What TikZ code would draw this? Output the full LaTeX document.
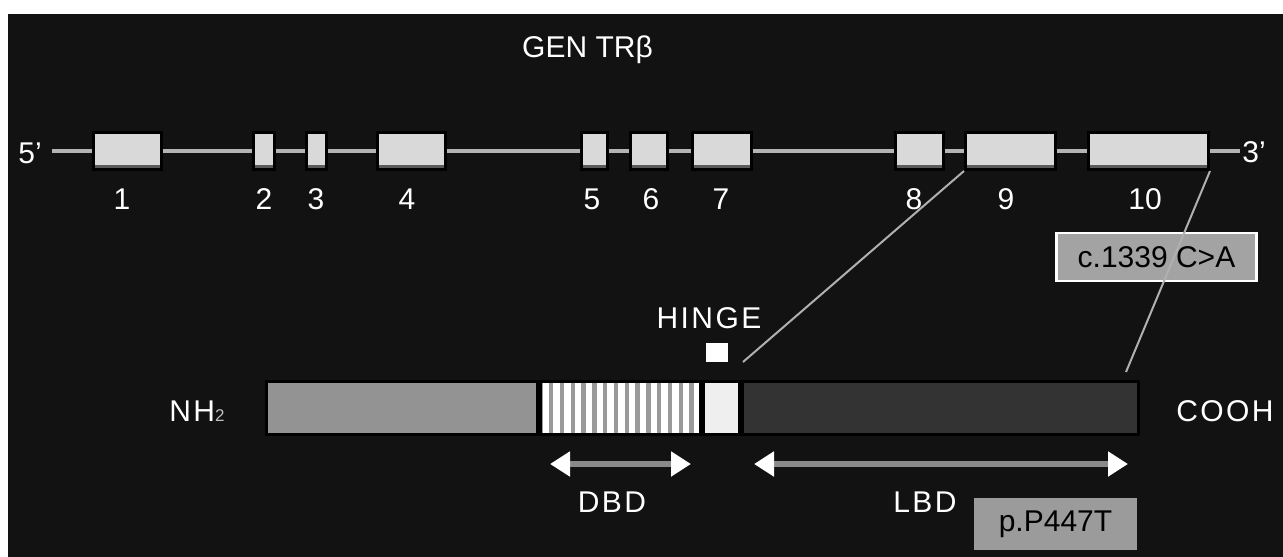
\documentclass[tikz,border=0pt]{standalone}
\usepackage{fontspec}
\setmainfont{Liberation Sans}
\usetikzlibrary{arrows.meta}
\definecolor{bg}{HTML}{121212}
\definecolor{exfill}{HTML}{D9D9D9}
\definecolor{exshade}{HTML}{5A5A5A}
\definecolor{geneln}{HTML}{B4B4B4}
\definecolor{connln}{HTML}{B0B0B0}
\definecolor{ntdfill}{HTML}{939393}
\definecolor{lbdfill}{HTML}{333333}
\definecolor{hingefill}{HTML}{EFEFEF}
\definecolor{stripegray}{HTML}{9A9A9A}
\definecolor{cboxfill}{HTML}{A3A3A3}
\definecolor{pboxfill}{HTML}{9B9B9B}
\definecolor{shaft}{HTML}{8A8A8A}
\tikzset{
  exon/.style={draw=black, line width=3pt, fill=exfill, inner sep=0pt, minimum height=37pt,
    path picture={\fill[exshade] (path picture bounding box.south west) rectangle ([yshift=5pt]path picture bounding box.south east);}},
  geneline/.style={draw=geneln, line width=4pt},
  conn/.style={draw=connln, line width=2pt},
  seg/.style={draw=black, line width=3pt, inner sep=0pt, minimum height=53pt},
  lbl/.style={text=white, anchor=base, inner sep=0pt},
  wide/.style={font=\fontsize{30}{32}\selectfont\addfontfeature{LetterSpace=8}},
  dom/.style={draw=shaft, line width=6pt,
    {Triangle[width=24pt,length=20pt,color=white]}-{Triangle[width=24pt,length=20pt,color=white]}},
  mutbox/.style={text=black, inner sep=0pt}
}
\begin{document}
\begin{tikzpicture}[x=1pt,y=-1pt, font=\fontsize{30}{32}\selectfont]
\useasboundingbox (0,0) rectangle (1283,557);
\fill[white] (0,0) rectangle (1283,557);
\fill[bg] (8,14) rectangle (1283,557);

% title
\node[lbl] (title) at (587.5,57) {GEN TRβ};

% exons
\node[exon, minimum width=68pt] (e1) at (127.5,151) {};
\node[exon, minimum width=21pt] (e2) at (264,151) {};
\node[exon, minimum width=20pt] (e3) at (316.5,151) {};
\node[exon, minimum width=68pt] (e4) at (411.5,151) {};
\node[exon, minimum width=26pt] (e5) at (594.5,151) {};
\node[exon, minimum width=37pt] (e6) at (649,151) {};
\node[exon, minimum width=59pt] (e7) at (722,151) {};
\node[exon, minimum width=48pt] (e8) at (919.5,151) {};
\node[exon, minimum width=90pt] (e9) at (1010.5,151) {};
\node[exon, minimum width=120pt] (e10) at (1148.5,151) {};

\coordinate (g5) at (52,151);
\coordinate (g3) at (1240,151);
\draw[geneline] (g5) -- (e1.west) (e1.east) -- (e2.west) (e2.east) -- (e3.west)
  (e3.east) -- (e4.west) (e4.east) -- (e5.west) (e5.east) -- (e6.west)
  (e6.east) -- (e7.west) (e7.east) -- (e8.west) (e8.east) -- (e9.west)
  (e9.east) -- (e10.west) (e10.east) -- (g3);

\node[lbl] (t5) at (30,163) {5'};
\node[lbl] (t3) at (1254,162) {3'};

% exon numbers
\node[lbl] (n1) at (122,209) {1};
\node[lbl] (n2) at (264,209) {2};
\node[lbl] (n3) at (316,209) {3};
\node[lbl] (n4) at (407,209) {4};
\node[lbl] (n5) at (592,209) {5};
\node[lbl] (n6) at (651,209) {6};
\node[lbl] (n7) at (721,209) {7};
\node[lbl] (n8) at (914,209) {8};
\node[lbl] (n9) at (1006,209) {9};
\node[lbl] (n10) at (1145,209) {10};

% protein bar
\node[seg, fill=ntdfill, minimum width=271pt] (ntd) at (402,408) {};
\node[seg, fill=stripegray, minimum width=160pt,
  path picture={\foreach \k in {0,...,14}{\fill[white] ([xshift=\k*10.8pt+2pt]path picture bounding box.south west) rectangle ([xshift=\k*10.8pt+8.5pt]path picture bounding box.north west);}}]
  (dbd) at (620.5,408) {};
\node[seg, fill=hingefill, minimum width=36pt] (hinge) at (721.5,408) {};
\node[seg, fill=lbdfill, minimum width=396pt] (lbd) at (940.5,408) {};

\node[lbl, wide] (nh2) at (197,421) {NH{\fontsize{17}{17}\selectfont\color{lightgray}2}};
\node[lbl, wide] (cooh) at (1225,421) {COOH};

% hinge label and marker
\node[lbl, wide] (hingelbl) at (709,328) {HINGE};
\node[fill=white, minimum width=22pt, minimum height=19pt, inner sep=0pt] (hm) at (717,352) {};

% mutation box c.
\node[mutbox, fill=cboxfill, draw=white, line width=2.5pt, minimum width=200pt, minimum height=48pt] (cmut) at (1156.5,257) {c.1339 C>A};

% connectors exon -> protein
\coordinate (h9) at (743,362);
\coordinate (h10) at (1126,372);
\draw[conn] (e9.south west) -- (h9);
\draw[conn] (e10.south east) -- (h10);

% domain arrows
\coordinate (dbdL) at (550,464);
\coordinate (dbdR) at (691,464);
\coordinate (lbdL) at (754,464);
\coordinate (lbdR) at (1128,464);
\draw[dom] (dbdL) -- (dbdR);
\draw[dom] (lbdL) -- (lbdR);
\node[lbl, wide] (dbdlbl) at (612,512) {DBD};
\node[lbl, wide] (lbdlbl) at (925,512) {LBD};

% mutation box p.
\node[mutbox, fill=pboxfill, minimum width=163pt, minimum height=52pt] (pmut) at (1055.5,524) {p.P447T};
\end{tikzpicture}
\end{document}
